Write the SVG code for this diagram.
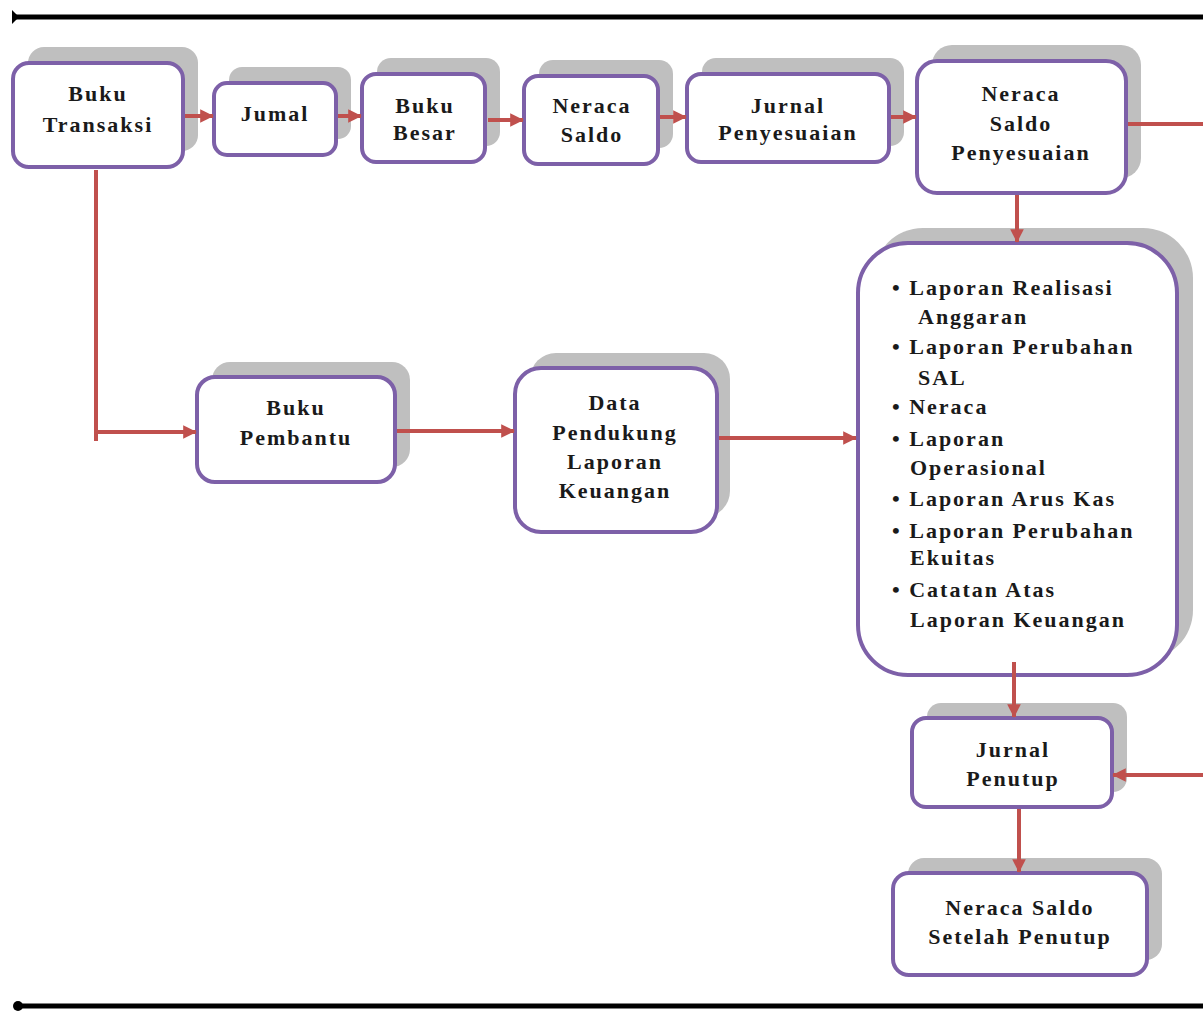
<svg xmlns="http://www.w3.org/2000/svg" width="1203" height="1013" viewBox="0 0 1203 1013">
<style>
.sh{fill:#bfbfbf}
.bx{fill:#fff;stroke:#7d60a8;stroke-width:4}
.t{font-family:"Liberation Serif","DejaVu Serif",serif;font-weight:bold;font-size:22px;letter-spacing:2px;fill:#1a1a1a}
.c{text-anchor:middle}
.cn{stroke:#c0504d;stroke-width:4;fill:none}
</style>
<defs>
<marker id="ah" markerWidth="4" markerHeight="4" refX="3.2" refY="2" orient="auto" markerUnits="strokeWidth">
<path d="M0,0.3 L3.4,2 L0,3.7 Z" fill="#c0504d"/>
</marker>
</defs>
<rect width="1203" height="1013" fill="#fff"/>
<g id="frame">
<line x1="14" y1="17" x2="1203" y2="17" stroke="#000" stroke-width="5"/>
<polygon points="12,10 19,17 12,24" fill="#000"/>
<line x1="18" y1="1006" x2="1203" y2="1006" stroke="#000" stroke-width="5"/>
<circle cx="18" cy="1006" r="5" fill="#000"/>
</g>
<g id="n-buku-transaksi">
<rect class="sh" x="28" y="47" width="170" height="104" rx="16"/>
<rect class="bx" x="13" y="63" width="170" height="104" rx="16"/>
<text class="t c" x="98" y="101">Buku</text>
<text class="t c" x="98" y="132">Transaksi</text>
</g>
<g id="n-jumal">
<rect class="sh" x="229" y="67" width="122" height="72" rx="13"/>
<rect class="bx" x="214" y="83" width="122" height="72" rx="13"/>
<text class="t c" x="275" y="121">Jumal</text>
</g>
<g id="n-buku-besar">
<rect class="sh" x="377" y="58" width="123" height="88" rx="14"/>
<rect class="bx" x="362" y="74" width="123" height="88" rx="14"/>
<text class="t c" x="425" y="113">Buku</text>
<text class="t c" x="425" y="140">Besar</text>
</g>
<g id="n-neraca-saldo">
<rect class="sh" x="539" y="60" width="134" height="88" rx="14"/>
<rect class="bx" x="524" y="76" width="134" height="88" rx="14"/>
<text class="t c" x="592" y="113">Neraca</text>
<text class="t c" x="592" y="142">Saldo</text>
</g>
<g id="n-jurnal-penyesuaian">
<rect class="sh" x="702" y="58" width="202" height="88" rx="14"/>
<rect class="bx" x="687" y="74" width="202" height="88" rx="14"/>
<text class="t c" x="788" y="113">Jurnal</text>
<text class="t c" x="788" y="140">Penyesuaian</text>
</g>
<g id="n-neraca-saldo-penyesuaian">
<rect class="sh" x="932" y="45" width="209" height="133" rx="20"/>
<rect class="bx" x="917" y="61" width="209" height="132" rx="20"/>
<text class="t c" x="1021" y="101">Neraca</text>
<text class="t c" x="1021" y="131">Saldo</text>
<text class="t c" x="1021" y="160">Penyesuaian</text>
</g>
<g id="n-laporan">
<rect class="sh" x="873" y="228" width="320" height="432" rx="50"/>
<rect class="bx" x="858" y="243" width="319" height="432" rx="50"/>
<text class="t" x="892" y="295">• Laporan Realisasi</text>
<text class="t" x="918" y="324">Anggaran</text>
<text class="t" x="892" y="354">• Laporan Perubahan</text>
<text class="t" x="918" y="385">SAL</text>
<text class="t" x="892" y="414">• Neraca</text>
<text class="t" x="892" y="446">• Laporan</text>
<text class="t" x="910" y="475">Operasional</text>
<text class="t" x="892" y="506">• Laporan Arus Kas</text>
<text class="t" x="892" y="538">• Laporan Perubahan</text>
<text class="t" x="910" y="565">Ekuitas</text>
<text class="t" x="892" y="597">• Catatan Atas</text>
<text class="t" x="910" y="627">Laporan Keuangan</text>
</g>
<g id="n-buku-pembantu">
<rect class="sh" x="212" y="362" width="198" height="105" rx="18"/>
<rect class="bx" x="197" y="377" width="198" height="105" rx="18"/>
<text class="t c" x="296" y="415">Buku</text>
<text class="t c" x="296" y="445">Pembantu</text>
</g>
<g id="n-data-pendukung">
<rect class="sh" x="530" y="353" width="200" height="164" rx="26"/>
<rect class="bx" x="515" y="368" width="202" height="164" rx="26"/>
<text class="t c" x="615" y="410">Data</text>
<text class="t c" x="615" y="440">Pendukung</text>
<text class="t c" x="615" y="469">Laporan</text>
<text class="t c" x="615" y="498">Keuangan</text>
</g>
<g id="n-jurnal-penutup">
<rect class="sh" x="927" y="703" width="200" height="89" rx="14"/>
<rect class="bx" x="912" y="718" width="200" height="89" rx="14"/>
<text class="t c" x="1013" y="757">Jurnal</text>
<text class="t c" x="1013" y="786">Penutup</text>
</g>
<g id="n-neraca-saldo-setelah-penutup">
<rect class="sh" x="908" y="858" width="254" height="102" rx="16"/>
<rect class="bx" x="893" y="873" width="254" height="102" rx="16"/>
<text class="t c" x="1020" y="915">Neraca Saldo</text>
<text class="t c" x="1020" y="944">Setelah Penutup</text>
</g>
<g id="connectors">
<line class="cn" x1="185" y1="116" x2="213" y2="116" marker-end="url(#ah)"/>
<line class="cn" x1="338" y1="116" x2="361" y2="116" marker-end="url(#ah)"/>
<line class="cn" x1="488" y1="120" x2="523" y2="120" marker-end="url(#ah)"/>
<line class="cn" x1="660" y1="117" x2="686" y2="117" marker-end="url(#ah)"/>
<line class="cn" x1="891" y1="117" x2="916" y2="117" marker-end="url(#ah)"/>
<line class="cn" x1="1128" y1="124" x2="1203" y2="124"/>
<line class="cn" x1="1017" y1="195" x2="1017" y2="242" marker-end="url(#ah)"/>
<line class="cn" x1="1014" y1="662" x2="1014" y2="717" marker-end="url(#ah)"/>
<line class="cn" x1="1019" y1="809" x2="1019" y2="872" marker-end="url(#ah)"/>
<line class="cn" x1="1203" y1="775" x2="1113" y2="775" marker-end="url(#ah)"/>
<line class="cn" x1="96" y1="170" x2="96" y2="441"/>
<line class="cn" x1="94" y1="432" x2="196" y2="432" marker-end="url(#ah)"/>
<line class="cn" x1="397" y1="431" x2="514" y2="431" marker-end="url(#ah)"/>
<line class="cn" x1="719" y1="438" x2="856" y2="438" marker-end="url(#ah)"/>
</g>
</svg>
